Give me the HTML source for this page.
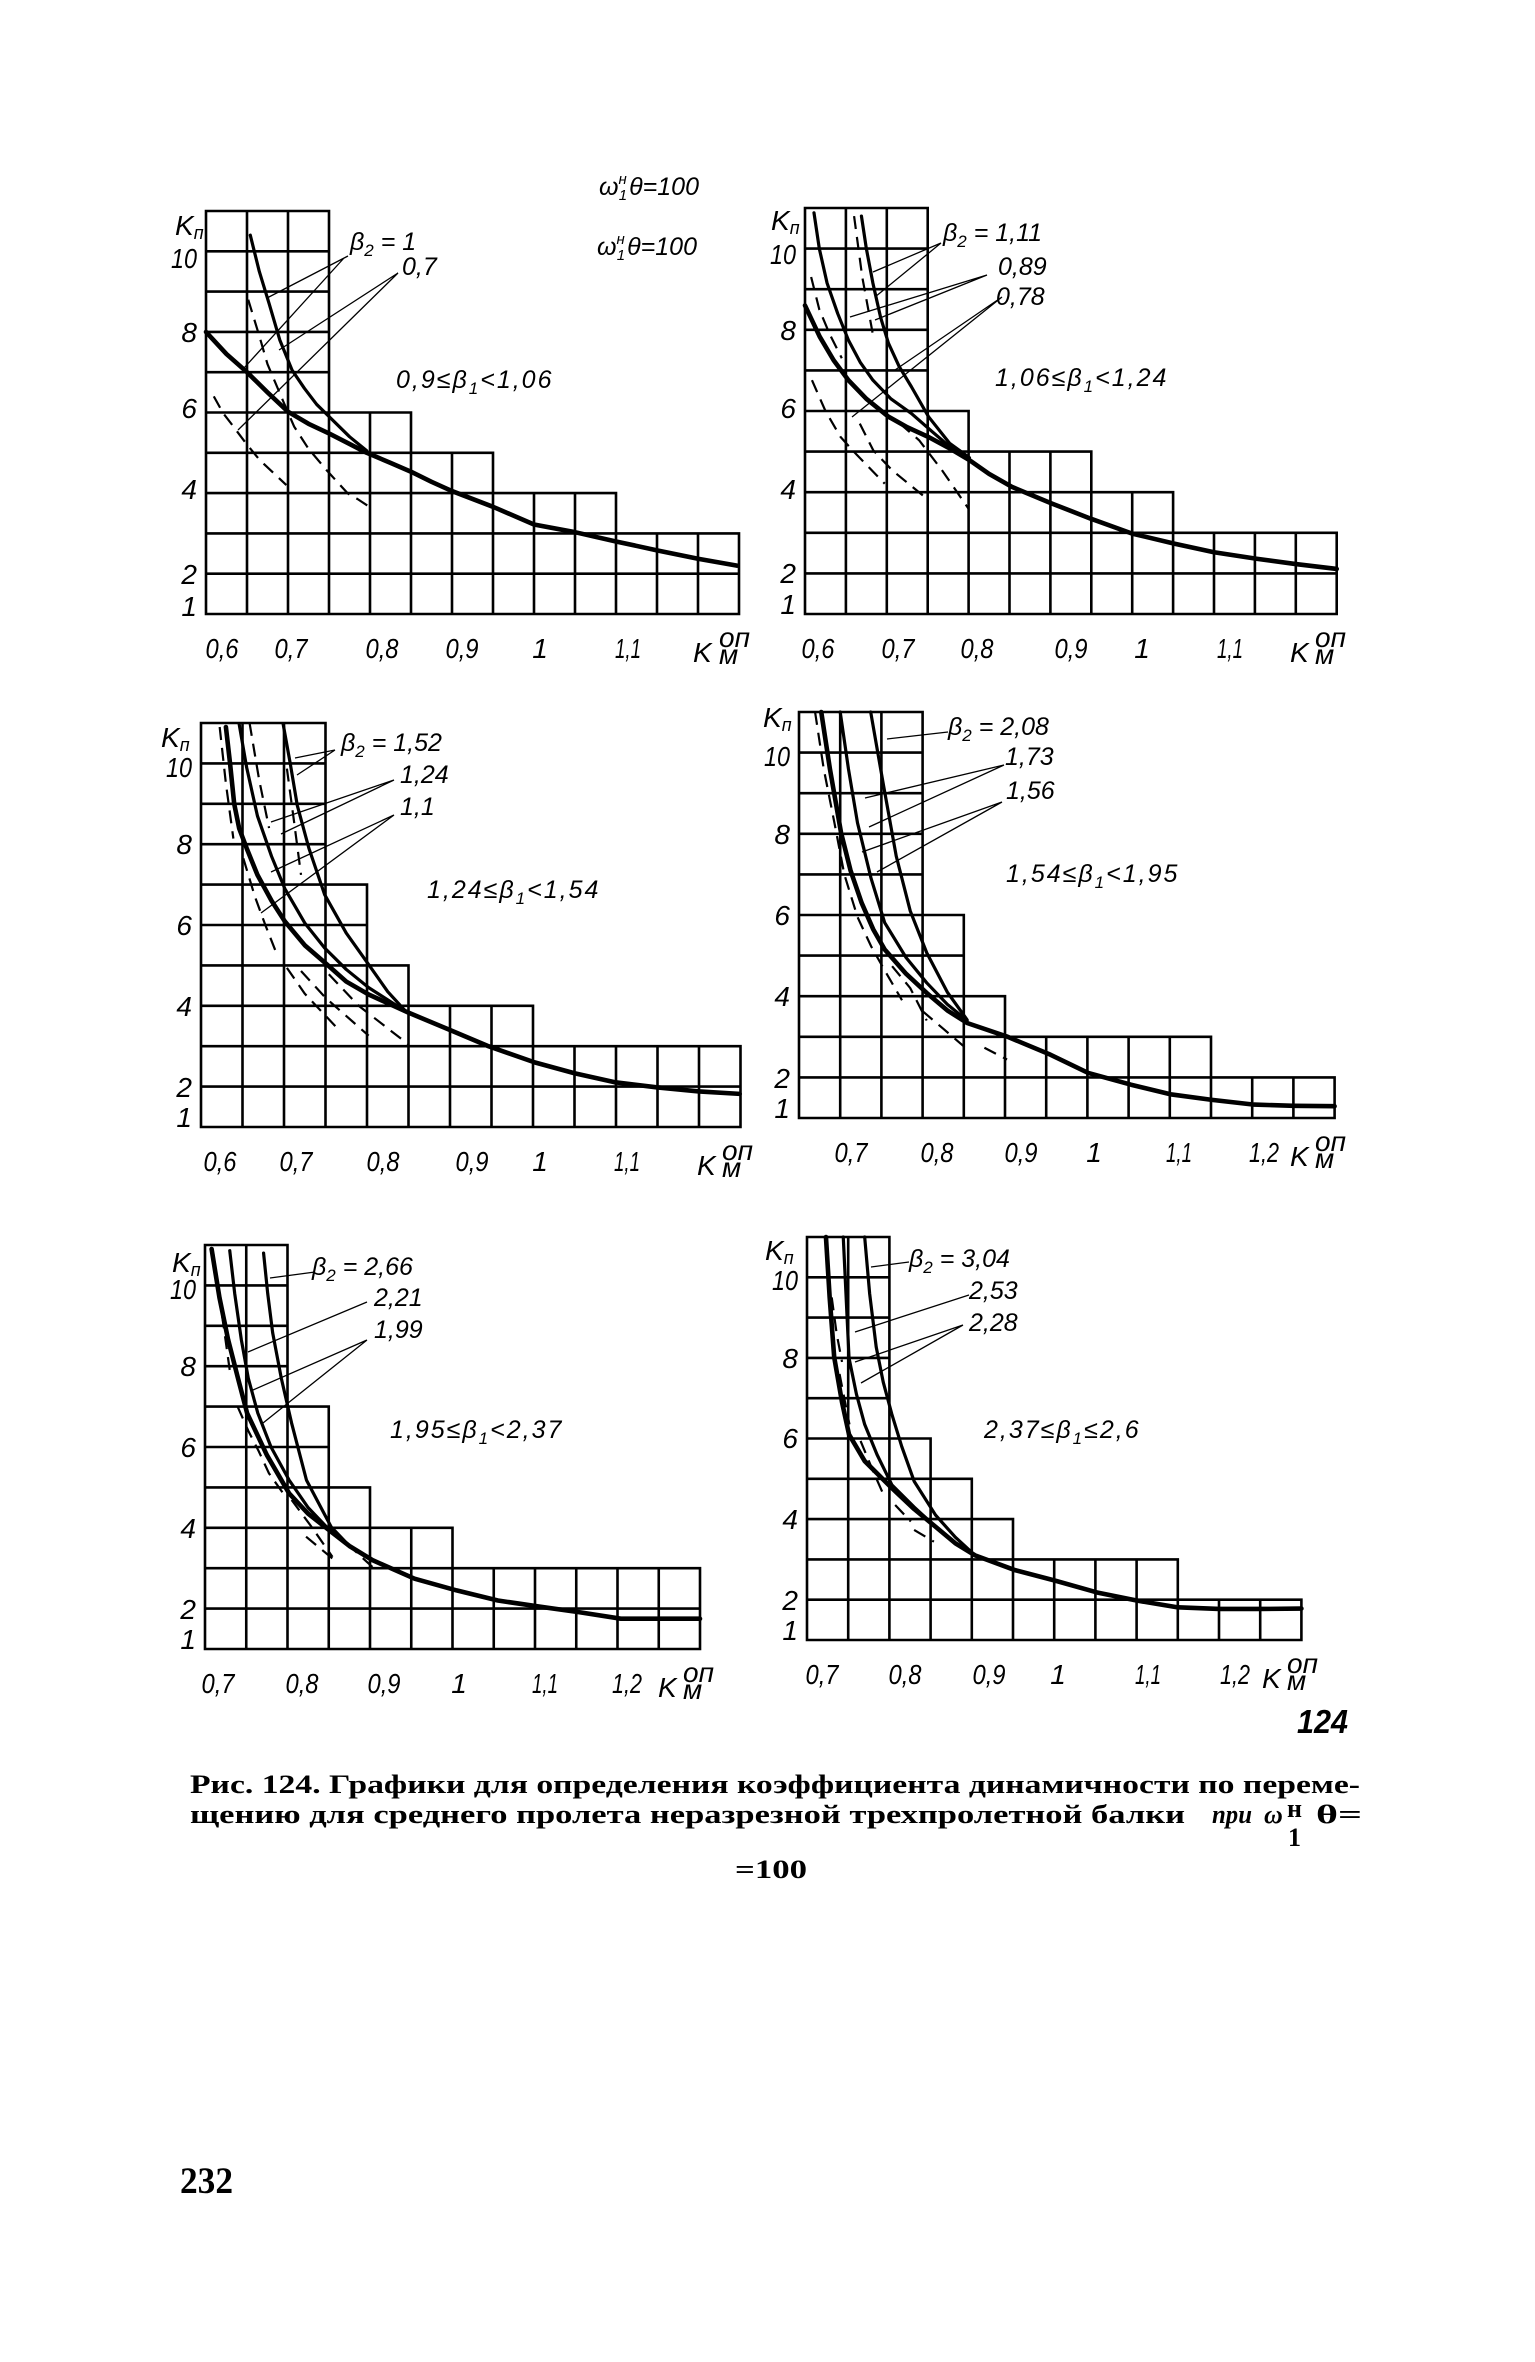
<!DOCTYPE html>
<html>
<head>
<meta charset="utf-8">
<style>
  html,body{margin:0;padding:0;background:#fff;}
  svg{display:block;}
  .g{fill:none;stroke:#000;stroke-width:2.6;vector-effect:non-scaling-stroke;stroke-linecap:square;}
  .m{fill:none;stroke:#000;stroke-width:4.6;vector-effect:non-scaling-stroke;stroke-linejoin:round;stroke-linecap:round;}
  .s{fill:none;stroke:#000;stroke-width:3.2;vector-effect:non-scaling-stroke;stroke-linejoin:round;stroke-linecap:round;}
  .d{fill:none;stroke:#000;stroke-width:2.2;vector-effect:non-scaling-stroke;stroke-dasharray:13 8;stroke-linecap:butt;}
  .l{fill:none;stroke:#000;stroke-width:1.3;}
  .t{font-family:"Liberation Sans","DejaVu Sans",sans-serif;font-style:italic;font-size:28px;fill:#000;}
  .b{font-family:"Liberation Sans","DejaVu Sans",sans-serif;font-style:italic;font-size:25px;fill:#000;}
  .c{font-family:"Liberation Serif","DejaVu Serif",serif;font-weight:bold;font-size:26px;fill:#000;}
</style>
</head>
<body>
<svg width="1535" height="2362" viewBox="0 0 1535 2362" xmlns="http://www.w3.org/2000/svg">
<rect x="0" y="0" width="1535" height="2362" fill="#fff"/>

<!-- ================= PANEL 1 ================= -->
<g transform="translate(206,614) scale(41,-40.3)">
  <path class="g" d="M0 0H13M0 1H13M0 2H13M0 3H10M0 4H7M0 5H5M0 6H3M0 7H3M0 8H3M0 9H3M0 10H3M0 0V10M1 0V10M2 0V10M3 0V10M4 0V5M5 0V5M6 0V4M7 0V4M8 0V3M9 0V3M10 0V3M11 0V2M12 0V2M13 0V2"/>
  <path class="m" d="M0,7 L0.5,6.45 L1,6 L1.5,5.5 L2,5.02 L2.5,4.72 L3,4.48 L3.5,4.22 L3.92,4 L4.5,3.75 L5,3.53 L5.5,3.28 L6,3.05 L7,2.66 L8,2.22 L9,2.03 L10,1.8 L11,1.58 L12,1.37 L12.95,1.2"/>
  <path class="s" d="M1.08,9.4 L1.3,8.5 L1.54,7.7 L1.8,6.8 L2.1,6.05 L2.4,5.6 L2.7,5.2 L3,4.9 L3.5,4.4 L3.92,4.05"/>
  <path class="d" d="M1.03,7.8 L1.3,6.9 L1.5,6.2 L1.87,5.31 L2.15,4.65 L2.5,4.1 L2.94,3.57 L3.46,2.99 L3.7,2.85 L4.07,2.6"/>
  <path class="d" d="M0.19,5.4 L0.42,4.98 L0.61,4.73 L0.98,4.23 L1.31,3.82 L1.96,3.2"/>
</g>
<path class="l" d="M348,256 L267,298 M344,258 L244,368 M398,273 L279,350 M398,273 L238,430"/>
<text class="t" x="175" y="235">K<tspan font-size="18" dy="4">п</tspan></text>
<g class="t" text-anchor="end">
  <text x="197" y="268" textLength="26" lengthAdjust="spacingAndGlyphs">10</text>
  <text x="197" y="342">8</text>
  <text x="197" y="418">6</text>
  <text x="197" y="499">4</text>
  <text x="197" y="584">2</text>
  <text x="197" y="616">1</text>
</g>
<g class="t" text-anchor="middle">
  <text x="222" y="658" textLength="33" lengthAdjust="spacingAndGlyphs">0,6</text>
  <text x="291" y="658" textLength="33" lengthAdjust="spacingAndGlyphs">0,7</text>
  <text x="382" y="658" textLength="33" lengthAdjust="spacingAndGlyphs">0,8</text>
  <text x="462" y="658" textLength="33" lengthAdjust="spacingAndGlyphs">0,9</text>
  <text x="540" y="658">1</text>
  <text x="628" y="658" textLength="26" lengthAdjust="spacingAndGlyphs">1,1</text>
</g>
<text class="t" x="693" y="662">K</text>
<text class="t" x="719" y="647" font-size="16">оп</text>
<text class="t" x="719" y="664" font-size="16">м</text>
<text class="b" x="350" y="250">β<tspan font-size="17" dy="6">2</tspan><tspan dy="-6"> = 1</tspan></text>
<text class="b" x="402" y="275">0,7</text>
<text class="b" x="396" y="388" letter-spacing="2">0,9≤β<tspan font-size="17" dy="6">1</tspan><tspan dy="-6">&lt;1,06</tspan></text>
<text class="b" x="599" y="195">ω<tspan font-size="15" dy="-11">н</tspan><tspan font-size="15" dx="-8" dy="16">1</tspan><tspan dy="-5" dx="2">θ=100</tspan></text>
<text class="b" x="597" y="255">ω<tspan font-size="15" dy="-11">н</tspan><tspan font-size="15" dx="-8" dy="16">1</tspan><tspan dy="-5" dx="2">θ=100</tspan></text>

<!-- ================= PANEL 2 ================= -->
<g transform="translate(805,614) scale(40.9,-40.6)">
  <path class="g" d="M0 0H13M0 1H13M0 2H13M0 3H9M0 4H7M0 5H4M0 6H3M0 7H3M0 8H3M0 9H3M0 10H3M0 0V10M1 0V10M2 0V10M3 0V10M4 0V5M5 0V4M6 0V4M7 0V4M8 0V3M9 0V3M10 0V2M11 0V2M12 0V2M13 0V2"/>
  <path class="m" d="M0,7.6 L0.36,6.83 L0.7,6.25 L1.06,5.76 L1.5,5.3 L2.04,4.86 L2.5,4.6 L3.02,4.36 L3.5,4.1 L4.02,3.79 L4.5,3.45 L5.06,3.13 L6.04,2.72 L6.98,2.35 L8,1.98 L9.04,1.73 L10,1.52 L11.04,1.36 L12,1.23 L13,1.11"/>
  <path class="s" d="M0.22,9.88 L0.35,9 L0.54,8.15 L0.8,7.4 L1.06,6.75 L1.35,6.2 L1.66,5.76 L2.1,5.3 L2.6,4.94 L3.1,4.5 L3.54,4.12 L4.02,3.79"/>
  <path class="s" d="M1.38,9.8 L1.5,9 L1.66,8.15 L1.85,7.3 L2.04,6.67 L2.3,6.1 L2.6,5.6 L3.02,4.86 L3.54,4.2 L4.02,3.85"/>
  <path class="d" d="M0.15,8.3 L0.35,7.5 L0.6,6.9 L0.9,6.3"/>
  <path class="d" d="M0.17,5.76 L0.5,5.0 L0.87,4.36 L1.2,3.99 L1.95,3.21"/>
  <path class="d" d="M1.34,4.69 L1.67,4.03 L2.13,3.54 L2.98,2.84"/>
  <path class="d" d="M2.32,4.69 L2.79,4.28 L3.35,3.54 L4.0,2.59"/>
  <path class="d" d="M1.2,9.8 L1.4,8.3 L1.67,6.83"/>
</g>
<path class="l" d="M941,243 L873,272 M941,243 L875,297 M987,275 L850,317 M987,275 L875,320 M1002,297 L852,417 M1002,297 L895,370"/>
<text class="t" x="771" y="230">K<tspan font-size="18" dy="4">п</tspan></text>
<g class="t" text-anchor="end">
  <text x="796" y="264" textLength="26" lengthAdjust="spacingAndGlyphs">10</text>
  <text x="796" y="340">8</text>
  <text x="796" y="418">6</text>
  <text x="796" y="499">4</text>
  <text x="796" y="583">2</text>
  <text x="796" y="614">1</text>
</g>
<g class="t" text-anchor="middle">
  <text x="818" y="658" textLength="33" lengthAdjust="spacingAndGlyphs">0,6</text>
  <text x="898" y="658" textLength="33" lengthAdjust="spacingAndGlyphs">0,7</text>
  <text x="977" y="658" textLength="33" lengthAdjust="spacingAndGlyphs">0,8</text>
  <text x="1071" y="658" textLength="33" lengthAdjust="spacingAndGlyphs">0,9</text>
  <text x="1142" y="658">1</text>
  <text x="1230" y="658" textLength="26" lengthAdjust="spacingAndGlyphs">1,1</text>
</g>
<text class="t" x="1290" y="662">K</text>
<text class="t" x="1315" y="647" font-size="16">оп</text>
<text class="t" x="1315" y="664" font-size="16">м</text>
<text class="b" x="943" y="241">β<tspan font-size="17" dy="6">2</tspan><tspan dy="-6"> = 1,11</tspan></text>
<text class="b" x="998" y="275">0,89</text>
<text class="b" x="996" y="305">0,78</text>
<text class="b" x="995" y="386" letter-spacing="2">1,06≤β<tspan font-size="17" dy="6">1</tspan><tspan dy="-6">&lt;1,24</tspan></text>

<!-- ================= PANEL 3 ================= -->
<g transform="translate(201,1127) scale(41.5,-40.4)">
  <path class="g" d="M0 0H13M0 1H13M0 2H13M0 3H8M0 4H5M0 5H4M0 6H4M0 7H3M0 8H3M0 9H3M0 10H3M0 0V10M1 0V10M2 0V10M3 0V10M4 0V6M5 0V4M6 0V3M7 0V3M8 0V3M9 0V2M10 0V2M11 0V2M12 0V2M13 0V2"/>
  <path class="m" d="M0.6,9.9 L0.7,9 L0.8,8 L0.92,7.39 L1.1,6.9 L1.36,6.24 L1.7,5.6 L2.02,5.09 L2.5,4.5 L3.04,4.02 L3.5,3.6 L4.04,3.28 L5,2.83 L6,2.4 L6.9,2.01 L8.04,1.6 L9,1.33 L9.96,1.11 L11,0.98 L12,0.88 L12.98,0.82"/>
  <path class="s" d="M0.92,9.97 L1.1,8.9 L1.36,7.7 L1.7,6.7 L2.02,5.9 L2.5,5.05 L2.98,4.43 L3.5,3.9 L4.04,3.45 L4.8,2.95"/>
  <path class="s" d="M1.98,9.97 L2.15,9 L2.32,7.96 L2.6,6.9 L2.98,5.75 L3.5,4.8 L4.04,4.02 L4.5,3.35 L4.9,2.9"/>
  <path class="d" d="M0.45,9.9 L0.6,8.5 L0.78,7.14"/>
  <path class="d" d="M1.02,6.65 L1.3,5.7 L1.55,5.0 L1.83,4.27"/>
  <path class="d" d="M2.07,3.94 L2.5,3.3 L3.27,2.46"/>
  <path class="d" d="M2.41,3.86 L3.0,3.2 L4.04,2.26"/>
  <path class="d" d="M3.08,3.78 L3.8,3.0 L4.99,2.05"/>
  <path class="d" d="M1.17,10 L1.4,8.6 L1.64,7.4"/>
  <path class="d" d="M2.07,8.87 L2.25,7.5 L2.41,6.24"/>
</g>
<path class="l" d="M335,750 L295,758 M335,750 L297,775 M394,780 L271,822 M394,780 L281,834 M394,815 L261,913 M394,815 L271,872"/>
<text class="t" x="161" y="747">K<tspan font-size="18" dy="4">п</tspan></text>
<g class="t" text-anchor="end">
  <text x="192" y="777" textLength="26" lengthAdjust="spacingAndGlyphs">10</text>
  <text x="192" y="854">8</text>
  <text x="192" y="935">6</text>
  <text x="192" y="1016">4</text>
  <text x="192" y="1097">2</text>
  <text x="192" y="1127">1</text>
</g>
<g class="t" text-anchor="middle">
  <text x="220" y="1171" textLength="33" lengthAdjust="spacingAndGlyphs">0,6</text>
  <text x="296" y="1171" textLength="33" lengthAdjust="spacingAndGlyphs">0,7</text>
  <text x="383" y="1171" textLength="33" lengthAdjust="spacingAndGlyphs">0,8</text>
  <text x="472" y="1171" textLength="33" lengthAdjust="spacingAndGlyphs">0,9</text>
  <text x="540" y="1171">1</text>
  <text x="627" y="1171" textLength="26" lengthAdjust="spacingAndGlyphs">1,1</text>
</g>
<text class="t" x="697" y="1175">K</text>
<text class="t" x="722" y="1160" font-size="16">оп</text>
<text class="t" x="722" y="1177" font-size="16">м</text>
<text class="b" x="341" y="751">β<tspan font-size="17" dy="6">2</tspan><tspan dy="-6"> = 1,52</tspan></text>
<text class="b" x="400" y="783">1,24</text>
<text class="b" x="400" y="815">1,1</text>
<text class="b" x="427" y="898" letter-spacing="2">1,24≤β<tspan font-size="17" dy="6">1</tspan><tspan dy="-6">&lt;1,54</tspan></text>

<!-- ================= PANEL 4 ================= -->
<g transform="translate(799,1118) scale(41.2,-40.6)">
  <path class="g" d="M0 0H13M0 1H13M0 2H10M0 3H5M0 4H4M0 5H4M0 6H3M0 7H3M0 8H3M0 9H3M0 10H3M0 0V10M1 0V10M2 0V10M3 0V10M4 0V5M5 0V3M6 0V2M7 0V2M8 0V2M9 0V2M10 0V2M11 0V1M12 0V1M13 0V1"/>
  <path class="m" d="M0.54,10 L0.75,8.6 L1.02,7.03 L1.25,6.1 L1.52,5.3 L1.8,4.65 L2.08,4.15 L2.6,3.55 L3.1,3.08 L3.6,2.65 L4.08,2.34 L5.04,2.01 L6.1,1.56 L7.02,1.11 L8.06,0.82 L9.04,0.58 L10,0.45 L11.04,0.33 L12,0.3 L13,0.29"/>
  <path class="s" d="M1,10 L1.2,8.6 L1.42,7.27 L1.75,5.9 L2.08,4.81 L2.6,3.95 L3.1,3.33 L3.6,2.8 L4.08,2.4"/>
  <path class="s" d="M1.74,10 L2.05,8.2 L2.36,6.45 L2.7,5.1 L3.1,4.07 L3.6,3.1 L4.08,2.42"/>
  <path class="d" d="M0.39,10 L0.6,8.6 L0.86,7.27 L1.1,6.0 L1.42,4.95 L1.75,4.23 L2.1,3.6 L2.5,2.9"/>
  <path class="d" d="M2.26,3.74 L2.7,3.2 L3.1,2.4"/>
  <path class="d" d="M3.0,2.63 L3.5,2.2 L4.04,1.73"/>
  <path class="d" d="M4.5,1.73 L5.05,1.44"/>
</g>
<path class="l" d="M948,732 L887,739 M1004,765 L865,798 M1004,765 L869,827 M1002,802 L862,852 M1002,802 L877,872"/>
<text class="t" x="763" y="727">K<tspan font-size="18" dy="4">п</tspan></text>
<g class="t" text-anchor="end">
  <text x="790" y="766" textLength="26" lengthAdjust="spacingAndGlyphs">10</text>
  <text x="790" y="844">8</text>
  <text x="790" y="925">6</text>
  <text x="790" y="1006">4</text>
  <text x="790" y="1088">2</text>
  <text x="790" y="1118">1</text>
</g>
<g class="t" text-anchor="middle">
  <text x="851" y="1162" textLength="33" lengthAdjust="spacingAndGlyphs">0,7</text>
  <text x="937" y="1162" textLength="33" lengthAdjust="spacingAndGlyphs">0,8</text>
  <text x="1021" y="1162" textLength="33" lengthAdjust="spacingAndGlyphs">0,9</text>
  <text x="1094" y="1162">1</text>
  <text x="1179" y="1162" textLength="26" lengthAdjust="spacingAndGlyphs">1,1</text>
  <text x="1264" y="1162" textLength="30" lengthAdjust="spacingAndGlyphs">1,2</text>
</g>
<text class="t" x="1290" y="1166">K</text>
<text class="t" x="1315" y="1151" font-size="16">оп</text>
<text class="t" x="1315" y="1168" font-size="16">м</text>
<text class="b" x="948" y="735">β<tspan font-size="17" dy="6">2</tspan><tspan dy="-6"> = 2,08</tspan></text>
<text class="b" x="1005" y="765">1,73</text>
<text class="b" x="1006" y="799">1,56</text>
<text class="b" x="1006" y="882" letter-spacing="2">1,54≤β<tspan font-size="17" dy="6">1</tspan><tspan dy="-6">&lt;1,95</tspan></text>

<!-- ================= PANEL 5 ================= -->
<g transform="translate(205,1649) scale(41.25,-40.4)">
  <path class="g" d="M0 0H12M0 1H12M0 2H12M0 3H6M0 4H4M0 5H3M0 6H3M0 7H2M0 8H2M0 9H2M0 10H2M0 0V10M1 0V10M2 0V10M3 0V6M4 0V4M5 0V3M6 0V3M7 0V2M8 0V2M9 0V2M10 0V2M11 0V2M12 0V2"/>
  <path class="m" d="M0.16,9.9 L0.35,8.7 L0.56,7.66 L0.8,6.7 L1.02,5.84 L1.5,4.8 L2.04,3.85 L2.5,3.35 L3.06,2.9 L3.5,2.55 L4.06,2.2 L5.08,1.74 L6.1,1.45 L7.1,1.2 L8.1,1.05 L9.08,0.91 L10.08,0.75 L11,0.75 L12,0.75"/>
  <path class="s" d="M0.6,9.86 L0.72,8.8 L0.88,7.66 L1.05,6.7 L1.28,5.84 L1.6,5.0 L2.04,4.18 L2.5,3.5 L3.06,2.9"/>
  <path class="s" d="M1.42,9.8 L1.52,8.8 L1.64,7.83 L1.85,6.7 L2.1,5.59 L2.46,4.18 L3.06,3.02 L3.5,2.55 L4.06,2.2"/>
  <path class="d" d="M0.2,9.8 L0.32,8.9 L0.45,8 L0.6,6.9"/>
  <path class="d" d="M0.79,6.0 L1.05,5.4 L1.3,4.9 L1.55,4.35 L2.0,3.7"/>
  <path class="d" d="M2.1,3.69 L2.6,3.0 L3.09,2.28"/>
  <path class="d" d="M2.45,2.78 L3.09,2.24"/>
  <path class="d" d="M3.45,2.6 L4.06,2.03"/>
</g>
<path class="l" d="M315,1272 L270,1278 M367,1302 L248,1352 M367,1340 L253,1390 M367,1340 L263,1423"/>
<text class="t" x="172" y="1272">K<tspan font-size="18" dy="4">п</tspan></text>
<g class="t" text-anchor="end">
  <text x="196" y="1299" textLength="26" lengthAdjust="spacingAndGlyphs">10</text>
  <text x="196" y="1376">8</text>
  <text x="196" y="1457">6</text>
  <text x="196" y="1538">4</text>
  <text x="196" y="1619">2</text>
  <text x="196" y="1649">1</text>
</g>
<g class="t" text-anchor="middle">
  <text x="218" y="1693" textLength="33" lengthAdjust="spacingAndGlyphs">0,7</text>
  <text x="302" y="1693" textLength="33" lengthAdjust="spacingAndGlyphs">0,8</text>
  <text x="384" y="1693" textLength="33" lengthAdjust="spacingAndGlyphs">0,9</text>
  <text x="459" y="1693">1</text>
  <text x="545" y="1693" textLength="26" lengthAdjust="spacingAndGlyphs">1,1</text>
  <text x="627" y="1693" textLength="30" lengthAdjust="spacingAndGlyphs">1,2</text>
</g>
<text class="t" x="658" y="1697">K</text>
<text class="t" x="683" y="1682" font-size="16">оп</text>
<text class="t" x="683" y="1699" font-size="16">м</text>
<text class="b" x="312" y="1275">β<tspan font-size="17" dy="6">2</tspan><tspan dy="-6"> = 2,66</tspan></text>
<text class="b" x="374" y="1306">2,21</text>
<text class="b" x="374" y="1338">1,99</text>
<text class="b" x="390" y="1438" letter-spacing="2">1,95≤β<tspan font-size="17" dy="6">1</tspan><tspan dy="-6">&lt;2,37</tspan></text>

<!-- ================= PANEL 6 ================= -->
<g transform="translate(807,1640) scale(41.2,-40.3)">
  <path class="g" d="M0 0H12M0 1H12M0 2H9M0 3H5M0 4H4M0 5H3M0 6H2M0 7H2M0 8H2M0 9H2M0 10H2M0 0V10M1 0V10M2 0V10M3 0V5M4 0V4M5 0V3M6 0V2M7 0V2M8 0V2M9 0V2M10 0V1M11 0V1M12 0V1"/>
  <path class="m" d="M0.46,10 L0.55,8.5 L0.66,7.02 L0.85,5.9 L1.02,5.1 L1.4,4.44 L2.06,3.77 L2.6,3.25 L3.12,2.81 L3.6,2.4 L4.08,2.1 L5.06,1.73 L6,1.48 L7.04,1.18 L8,0.98 L9,0.81 L10,0.77 L11,0.77 L12,0.78"/>
  <path class="s" d="M0.88,10 L0.95,8.5 L1.02,7 L1.2,6.1 L1.4,5.35 L1.7,4.6 L2.06,3.85 L2.6,3.3 L3.12,2.81"/>
  <path class="s" d="M1.4,10 L1.52,8.6 L1.68,7.27 L1.85,6.4 L2.06,5.6 L2.3,4.8 L2.6,3.94 L3.12,3.1 L3.6,2.55 L4.08,2.1"/>
  <path class="d" d="M0.6,8.5 L0.72,7.6 L0.85,6.9"/>
  <path class="d" d="M0.79,6.6 L1.03,5.35"/>
  <path class="d" d="M1.3,4.94 L1.6,4.2 L1.86,3.6"/>
  <path class="d" d="M2.14,3.35 L2.52,2.94"/>
  <path class="d" d="M2.6,2.73 L3.08,2.44"/>
</g>
<path class="l" d="M909,1262 L871,1267 M969,1295 L855,1332 M963,1325 L855,1362 M963,1325 L861,1383"/>
<text class="t" x="765" y="1260">K<tspan font-size="18" dy="4">п</tspan></text>
<g class="t" text-anchor="end">
  <text x="798" y="1290" textLength="26" lengthAdjust="spacingAndGlyphs">10</text>
  <text x="798" y="1368">8</text>
  <text x="798" y="1448">6</text>
  <text x="798" y="1529">4</text>
  <text x="798" y="1610">2</text>
  <text x="798" y="1640">1</text>
</g>
<g class="t" text-anchor="middle">
  <text x="822" y="1684" textLength="33" lengthAdjust="spacingAndGlyphs">0,7</text>
  <text x="905" y="1684" textLength="33" lengthAdjust="spacingAndGlyphs">0,8</text>
  <text x="989" y="1684" textLength="33" lengthAdjust="spacingAndGlyphs">0,9</text>
  <text x="1058" y="1684">1</text>
  <text x="1148" y="1684" textLength="26" lengthAdjust="spacingAndGlyphs">1,1</text>
  <text x="1235" y="1684" textLength="30" lengthAdjust="spacingAndGlyphs">1,2</text>
</g>
<text class="t" x="1262" y="1688">K</text>
<text class="t" x="1287" y="1673" font-size="16">оп</text>
<text class="t" x="1287" y="1690" font-size="16">м</text>
<text class="b" x="909" y="1267">β<tspan font-size="17" dy="6">2</tspan><tspan dy="-6"> = 3,04</tspan></text>
<text class="b" x="969" y="1299">2,53</text>
<text class="b" x="969" y="1331">2,28</text>
<text class="b" x="984" y="1438" letter-spacing="2">2,37≤β<tspan font-size="17" dy="6">1</tspan><tspan dy="-6">≤2,6</tspan></text>

<!-- figure number -->
<text x="1297" y="1733" font-family="Liberation Sans, sans-serif" font-style="italic" font-weight="bold" font-size="33" textLength="51" lengthAdjust="spacingAndGlyphs">124</text>

<!-- caption -->
<text class="c" x="190" y="1793" textLength="1170" lengthAdjust="spacingAndGlyphs">Рис. 124. Графики для определения коэффициента динамичности по переме-</text>
<text class="c" x="190" y="1823" textLength="995" lengthAdjust="spacingAndGlyphs">щению для среднего пролета неразрезной трехпролетной балки</text>
<text class="c" x="1212" y="1823" font-style="italic" textLength="40" lengthAdjust="spacingAndGlyphs">при</text>
<text class="c" x="1264" y="1823" font-style="italic">ω</text>
<text class="c" x="1287" y="1817" font-size="14">н</text>
<text class="c" x="1288" y="1846" font-size="17">1</text>
<text class="c" x="1316" y="1823" textLength="46" lengthAdjust="spacingAndGlyphs">θ=</text>
<text class="c" x="735" y="1878" font-size="23" textLength="72" lengthAdjust="spacingAndGlyphs">=100</text>

<!-- page number -->
<text x="180" y="2193" font-family="Liberation Serif, serif" font-weight="bold" font-size="37" textLength="53" lengthAdjust="spacingAndGlyphs">232</text>
</svg>
</body>
</html>
